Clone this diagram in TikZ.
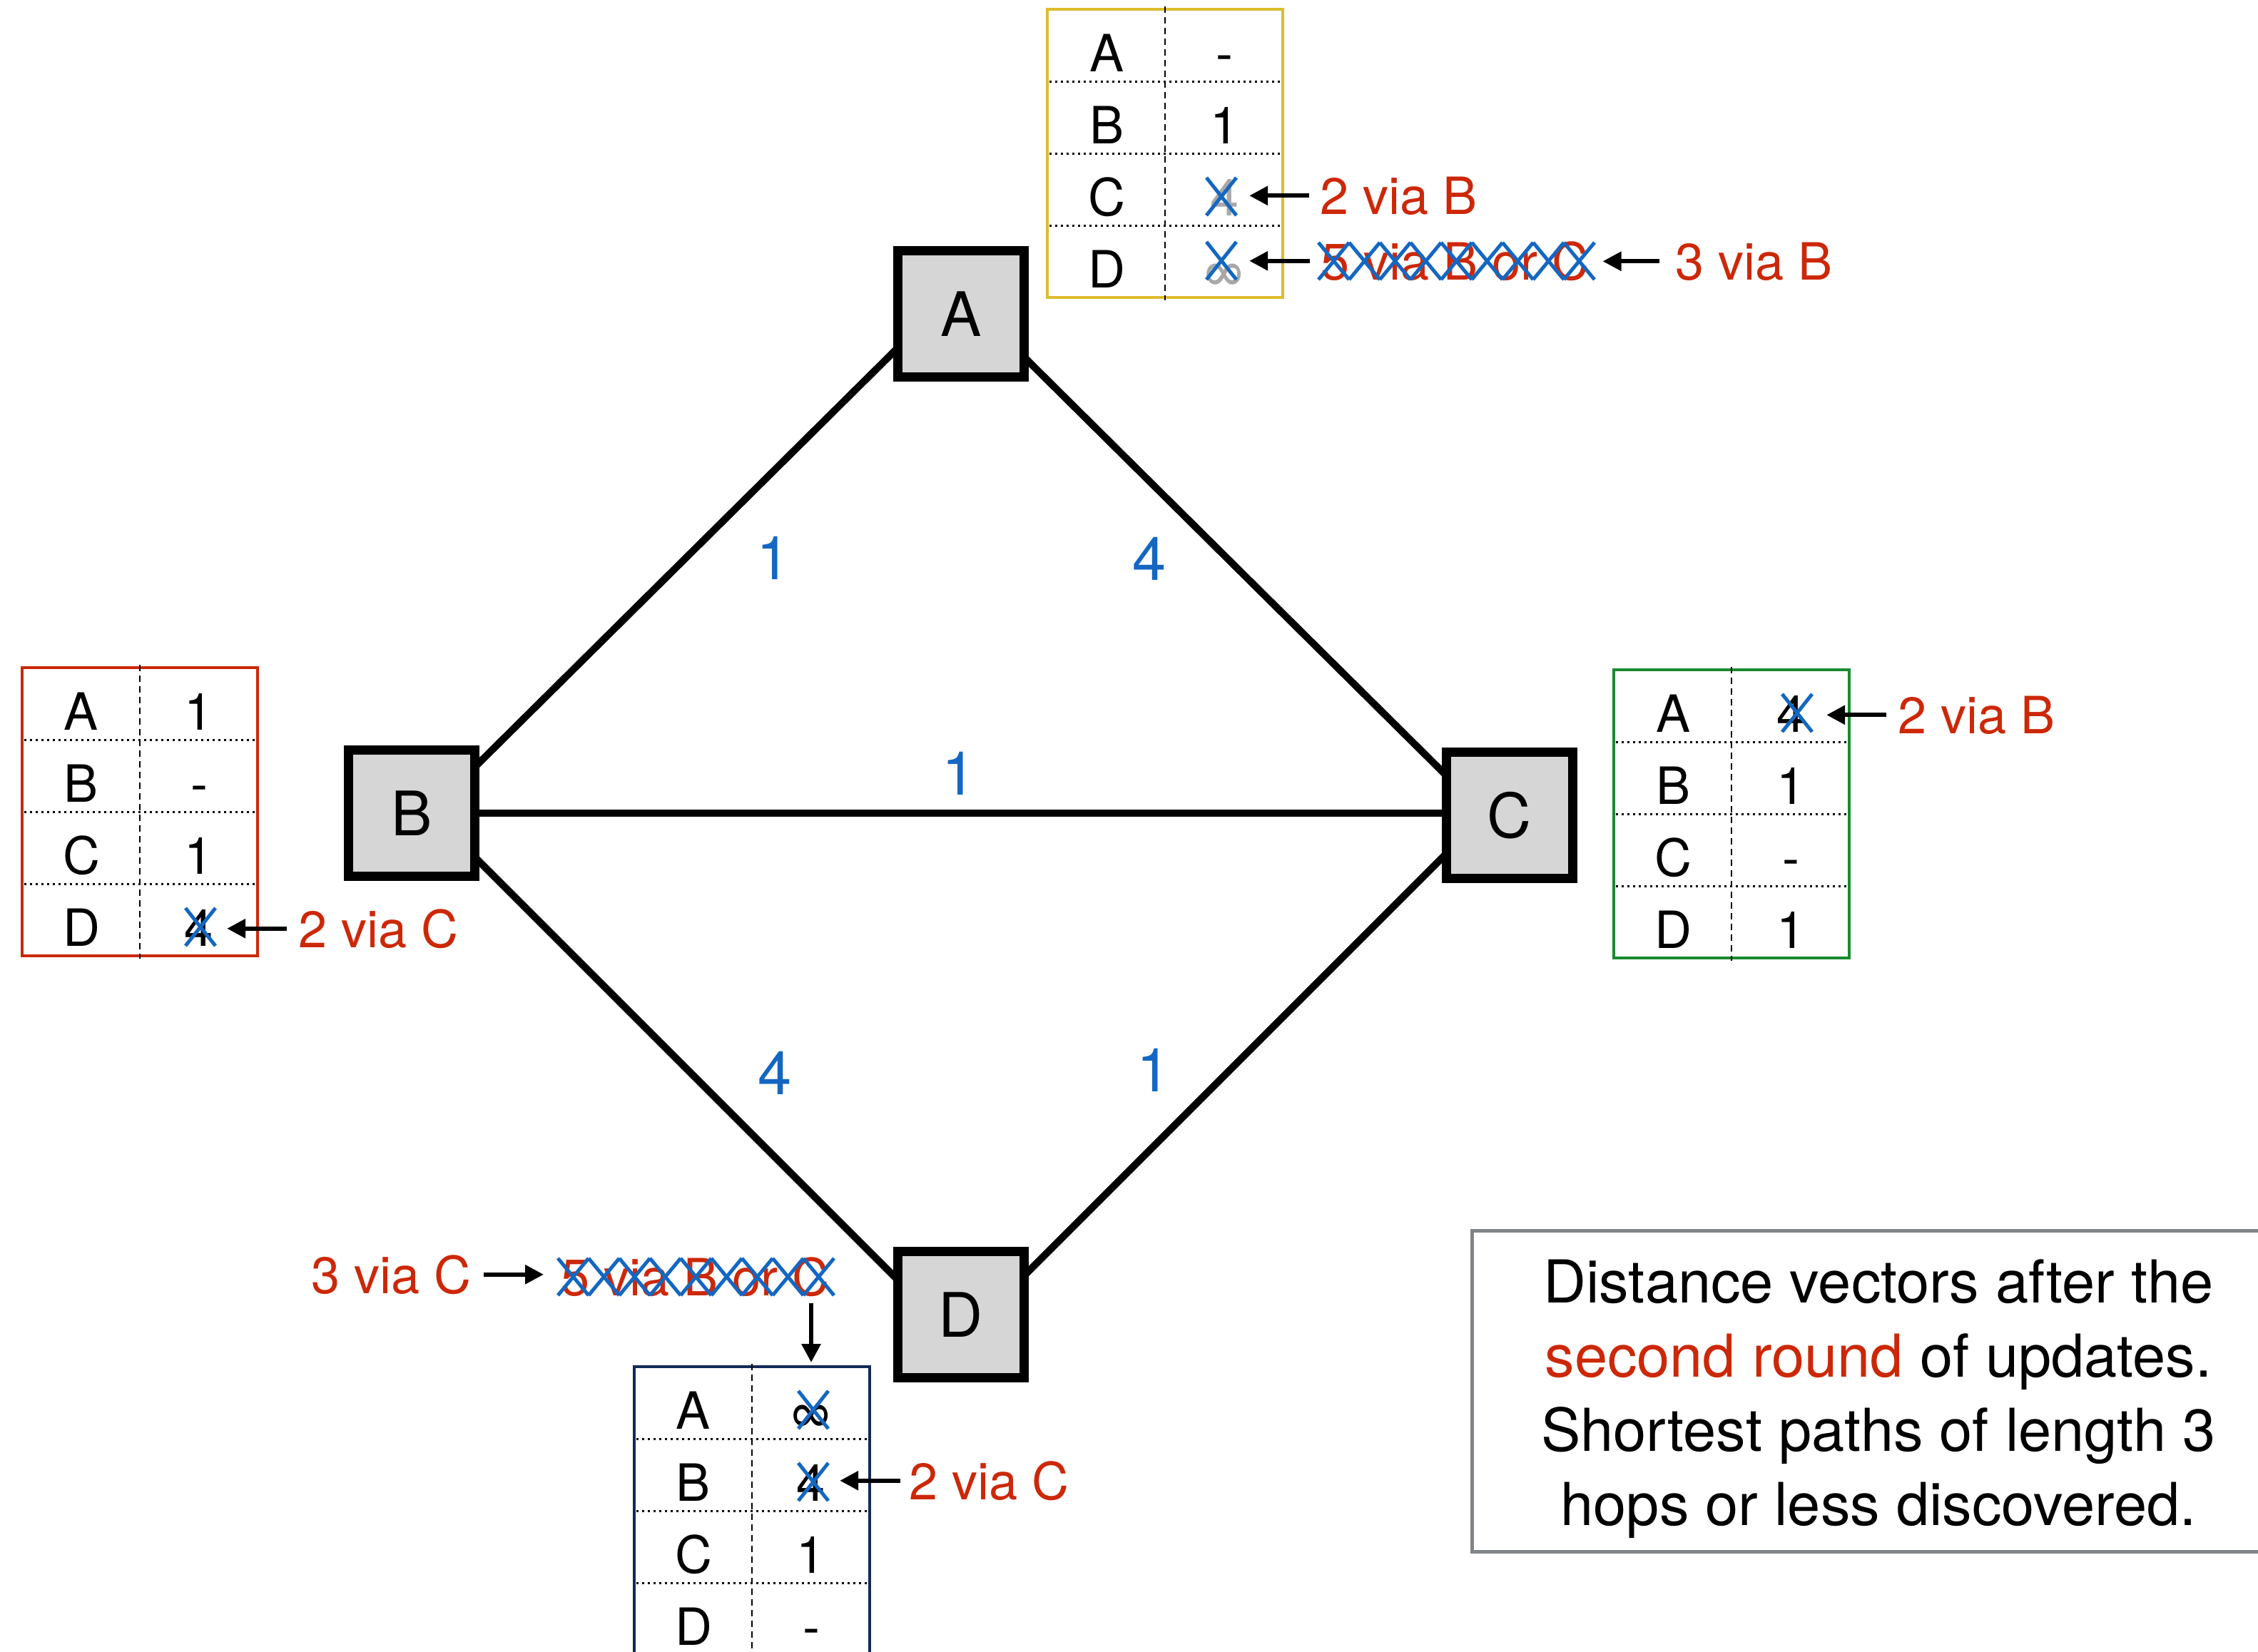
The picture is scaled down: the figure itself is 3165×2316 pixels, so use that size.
\documentclass[tikz,border=0pt]{standalone}
\usepackage{fontspec}
\setmainfont{TeX Gyre Heros}
\usetikzlibrary{arrows.meta,calc}

\definecolor{linkblue}{RGB}{20,103,193}
\definecolor{annred}{RGB}{204,40,8}
\definecolor{tabyellow}{RGB}{222,188,44}
\definecolor{tabred}{RGB}{204,40,8}
\definecolor{tabgreen}{RGB}{24,138,48}
\definecolor{tabnavy}{RGB}{18,42,88}
\definecolor{routerfill}{RGB}{214,214,214}
\definecolor{boxgray}{RGB}{128,132,137}
\definecolor{oldgray}{RGB}{168,168,168}

\pgfdeclarelayer{edges}
\pgfsetlayers{edges,main}

\newcommand\tabfont{\fontsize{72}{86}\selectfont}

% distance-vector table: name, top-left corner, frame colour, values for A..D
\newcommand\dvtable[7]{%
  \begin{scope}[shift={#2}]
    \draw[tabframe, draw=#3] (0,0) rectangle (330,404);
    \foreach \r in {1,2,3} \draw[rowsep] (3,101*\r) -- (327,101*\r);
    \draw[colsep] (165,-4) -- (165,408);
    \foreach \l [count=\i from 0] in {A,B,C,D}
      \node[cell] (#1-\l) at (83,87+101*\i) {\l};
    \node[cell, minimum width=40pt] (#1-vA) at (248,87)  {#4};
    \node[cell, minimum width=40pt] (#1-vB) at (248,188) {#5};
    \node[cell, minimum width=40pt] (#1-vC) at (248,289) {#6};
    \node[cell, minimum width=40pt] (#1-vD) at (248,390) {#7};
    \coordinate (#1-top) at (165,0);
  \end{scope}}

% blue cross over a superseded value: node, x offset, y offset
\newcommand\xout[3]{%
  \draw[strike] ($(#1.base)+(#2-21,#3)$) -- ++(42,-53)
                ($(#1.base)+(#2-21,#3-53)$) -- ++(42,53);}

% a run of crosses over a superseded annotation: node, x offset, count
\newcommand\xrun[3]{%
  \foreach \k in {1,...,#3}
    \draw[strike] ($(#1.base west)+(#2+43*\k-43,0)$) -- ++(43,-52)
                  ($(#1.base west)+(#2+43*\k-43,-52)$) -- ++(43,52);}

\begin{document}
\begin{tikzpicture}[x=1pt, y=-1pt,
  router/.style={draw=black, line width=13pt, fill=routerfill,
    minimum size=177pt, inner sep=0pt, font=\fontsize{86}{100}\selectfont},
  link/.style={line width=10pt, black, shorten <=-12pt, shorten >=-12pt},
  cost/.style={text=linkblue, inner sep=0pt, font=\fontsize{85}{100}\selectfont},
  cell/.style={font=\tabfont, inner sep=0pt, anchor=base},
  ann/.style={text=annred, font=\tabfont, inner sep=0pt, anchor=base west},
  ptr/.style={line width=6pt, -{Triangle[length=26pt,width=26pt]}},
  strike/.style={draw=linkblue, line width=5pt},
  tabframe/.style={line width=4.5pt},
  rowsep/.style={line width=3pt, dash pattern=on 3pt off 5pt},
  colsep/.style={line width=2.5pt, dash pattern=on 9pt off 6pt}]

\useasboundingbox (0,0) rectangle (3165,2316);

% routers
\node[router] (A) at (1347,440)  {A};
\node[router] (B) at (577,1140)  {B};
\node[router] (C) at (2116,1143) {C};
\node[router] (D) at (1347,1843) {D};

% white page and links, beneath the routers
\begin{pgfonlayer}{edges}
  \fill[white] (0,0) rectangle (3165,2316);
  \draw[link] ($(A.west)+(0,54)$) -- ($(B.east)+(0,-71)$);
  \draw[link] ($(A.east)+(0,67)$) -- ($(C.west)+(0,-62)$);
  \draw[link] (B.east) -- (B.east -| C.west);
  \draw[link] ($(B.east)+(0,68)$) -- ($(D.west)+(0,-55)$);
  \draw[link] ($(C.west)+(0,60)$) -- ($(D.east)+(0,-61)$);
\end{pgfonlayer}

% link costs
\node[cost] (cAB) at (1084,782)  {1};
\node[cost] (cAC) at (1611,783)  {4};
\node[cost] (cBC) at (1344,1084) {1};
\node[cost] (cBD) at (1086,1504) {4};
\node[cost] (cCD) at (1617,1500) {1};

% distance-vector tables
\dvtable{tA}{(1468,13)}{tabyellow}{-}{1}{\color{oldgray}4}{\color{oldgray}∞}
\dvtable{tB}{(31,936)}{tabred}{1}{-}{1}{4}
\dvtable{tC}{(2262,939)}{tabgreen}{4}{1}{-}{1}
\dvtable{tD}{(889,1916)}{tabnavy}{∞}{4}{1}{-}

% superseded values
\xout{tA-vC}{-4}{0}
\xout{tA-vD}{-4}{-11}
\xout{tB-vD}{2}{0}
\xout{tC-vA}{9}{0}
\xout{tD-vA}{3}{0}
\xout{tD-vB}{3}{0}

% updates at A
\node[ann] (aAC)  at (1850,300) {2 via B};
\node[ann] (aAD)  at (1851,392) {5 via B or C};
\node[ann] (aAD2) at (2348,392) {3 via B};
\xrun{aAD}{-3}{9}
\draw[ptr, shorten <=15pt, shorten >=15pt] (aAC.west) -- (aAC.west -| tA-vC.east);
\draw[ptr, shorten <=15pt, shorten >=15pt] (aAD.west) -- (aAD.west -| tA-vC.east);
\draw[ptr, shorten <=22pt, shorten >=19pt] (aAD2.west) -- (aAD2.west -| aAD.east);

% update at B
\node[ann] (aBD) at (418,1328) {2 via C};
\draw[ptr, shorten <=16pt, shorten >=19pt] (aBD.west) -- (aBD.west -| tB-vD.east);

% update at C
\node[ann] (aCA) at (2660,1028) {2 via B};
\draw[ptr, shorten <=16pt, shorten >=30pt] (aCA.west) -- (aCA.west -| tC-vA.east);

% updates at D
\node[ann] (aDB) at (1274,2102) {2 via C};
\draw[ptr, shorten <=12pt, shorten >=20pt] (aDB.west) -- (aDB.west -| tD-vB.east);
\node[ann] (aD3) at (436,1813) {3 via C};
\node[ann] (aD5) at (786,1816) {5 via B or C};
\xrun{aD5}{-4}{9}
\draw[ptr, shorten <=18pt, shorten >=24pt] (aD3.east) -- (aD3.east -| aD5.west);
\draw[ptr, shorten <=9pt, shorten >=6pt] (aD5.south -| tD-vA) -- (tD-top -| tD-vA);

% caption
\draw[boxgray, line width=5pt] (2063,1725) rectangle (3190,2175);
\node[align=center, inner sep=0pt, anchor=north,
      font=\fontsize{83}{103.7}\selectfont] (note) at (2633,1766)
  {Distance vectors after the\\
   \textcolor{annred}{second round} of updates.\\
   Shortest paths of length 3\\
   hops or less discovered.};
\end{tikzpicture}
\end{document}
